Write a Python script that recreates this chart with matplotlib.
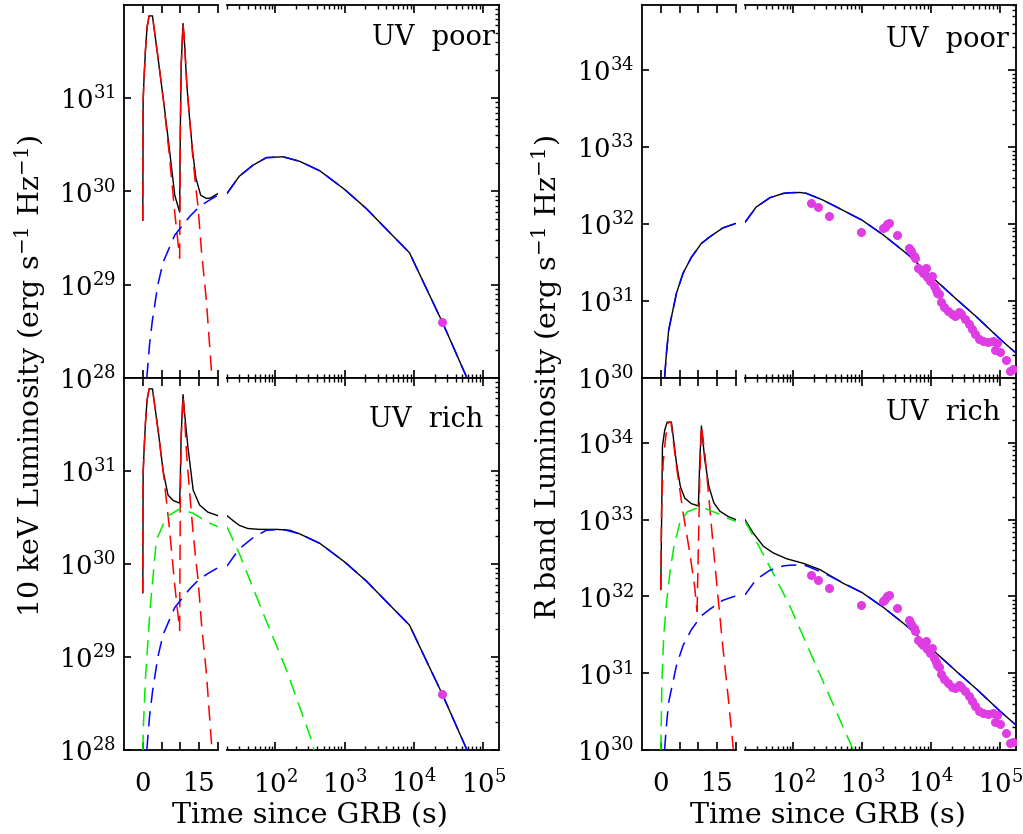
import numpy as np
import matplotlib
matplotlib.use("Agg")
import matplotlib.pyplot as plt
from matplotlib.ticker import LogLocator, NullLocator, NullFormatter

plt.rcParams["font.family"] = ["DejaVu Serif"]
plt.rcParams["mathtext.fontset"] = "dejavuserif"

# ---------------- 10 keV model curves (left column) ----------------
# prompt pulses (red)
xkev_red1_t = [0.0, 0.09, 0.35, 0.71, 1.15, 1.68, 2.57, 4.1, 5.5, 7.0, 8.5, 9.8]
xkev_red1_L = [4.9e29, 9.5e30, 1.7e31, 3.3e31, 5.8e31, 7.6e31, 7.6e31, 2.6e31, 9.3e30, 2.6e30, 5.9e29, 1.95e29]
xkev_red2_t = [9.8, 9.97, 10.2, 10.7, 11.1, 11.7, 12.4, 13.2, 14.1, 14.7, 15.6, 16.9, 18.4]
xkev_red2_L = [1.9e29, 4.2e30, 2.2e31, 6.3e31, 3.9e31, 1.4e31, 6.3e30, 2.6e30, 1.1e30, 6.8e29, 2.3e29, 6.8e28, 1.0e28]

# afterglow (blue)
xkev_blue_lin_t = [1.06, 1.8, 2.57, 4.0, 5.4, 8.5, 12.5, 15.1, 17.8, 20.0]
xkev_blue_lin_L = [1.0e28, 2.3e28, 4.2e28, 1.0e29, 1.74e29, 3.4e29, 5.4e29, 6.9e29, 8.1e29, 9.1e29]
xkev_blue_log_t = [20, 30, 47, 74, 129, 225, 440, 1000, 2080, 4060, 8650, 15400, 25700, 58600]
xkev_blue_log_L = [9.5e29, 1.45e30, 1.9e30, 2.3e30, 2.35e30, 2.1e30, 1.66e30, 1.05e30, 6.5e29,
                   3.9e29, 2.2e29, 8.9e28, 4.0e28, 1.0e28]

# extra UV component (green), UV rich only
xkev_green_lin_t = [0.0, 0.2, 0.7, 1.86, 3.6, 6.3, 9.8, 13.4, 17.3, 20.0]
xkev_green_lin_L = [1.0e28, 2.0e28, 5.8e28, 3.0e29, 1.8e30, 3.2e30, 3.9e30, 3.5e30, 2.8e30, 2.5e30]
xkev_green_log_t = [20, 30, 66, 145, 330, 360]
xkev_green_log_L = [2.5e30, 1.3e30, 3.0e29, 7.2e28, 1.3e28, 1.0e28]

# totals (black)
xkev_tot_poor_t = [0.0, 0.09, 0.35, 0.71, 1.15, 1.68, 2.57, 4.1, 5.5, 7.0, 8.5, 9.8,
                   9.97, 10.2, 10.7, 11.1, 11.7, 12.4, 13.2, 14.1, 15.4, 16.9, 18.0, 20.0]
xkev_tot_poor_L = [4.9e29, 9.5e30, 1.7e31, 3.3e31, 5.8e31, 7.6e31, 7.6e31, 2.6e31, 9.5e30, 3.0e30, 9.1e29, 6.0e29,
                   4.2e30, 2.2e31, 6.3e31, 3.9e31, 1.4e31, 6.3e30, 2.8e30, 1.4e30, 9.1e29, 8.4e29, 8.5e29, 9.5e29]
xkev_tot_rich_lin_t = [0.0, 0.09, 0.35, 0.71, 1.15, 1.68, 2.57, 4.1, 5.4, 6.7, 8.1, 9.8,
                       9.97, 10.2, 10.7, 11.1, 12.0, 13.4, 15.1, 17.3, 20.0]
xkev_tot_rich_lin_L = [4.9e29, 9.5e30, 1.7e31, 3.3e31, 5.8e31, 7.6e31, 7.6e31, 2.7e31, 1.0e31, 5.5e30, 4.8e30, 4.5e30,
                       8.0e30, 2.4e31, 6.6e31, 4.2e31, 1.8e31, 6.2e30, 4.3e30, 3.6e30, 3.3e30]
xkev_tot_rich_log_t = [20, 24, 30, 40, 59, 104, 161, 225, 440, 1000, 2080, 4060, 8650, 15400, 25700, 58600]
xkev_tot_rich_log_L = [3.3e30, 2.95e30, 2.6e30, 2.4e30, 2.35e30, 2.35e30, 2.3e30, 2.1e30, 1.66e30, 1.05e30,
                       6.5e29, 3.9e29, 2.2e29, 8.9e28, 4.0e28, 1.0e28]

xkev_obs_t = [25700]
xkev_obs_L = [4.0e28]

# ---------------- R band model curves (right column) ----------------
rb_blue_lin_t = [1.0, 1.5, 2.1, 2.83, 4.16, 5.93, 8.14, 10.8, 13.0, 16.5, 20.0]
rb_blue_lin_L = [1.0e30, 2.1e30, 4.2e30, 6.2e30, 1.26e31, 2.3e31, 3.7e31, 5.6e31, 6.8e31, 8.9e31, 1.02e32]
rb_blue_log_t = [20, 29, 46, 72, 90, 125, 156, 272, 476, 1000, 2030, 4790, 10000, 23400, 45700, 100000, 171000]
rb_blue_log_L = [1.05e32, 1.66e32, 2.2e32, 2.5e32, 2.55e32, 2.57e32, 2.5e32, 2.04e32, 1.58e32, 1.12e32,
                 7.2e31, 3.9e31, 2.1e31, 1.05e31, 6.2e30, 3.2e30, 2.1e30]

rb_red1_t = [0.0, 0.18, 0.62, 1.33, 2.0, 2.7, 4.16, 5.93, 7.7, 9.0, 9.65]
rb_red1_L = [1.23e32, 1.23e33, 5.5e33, 1.23e34, 1.86e34, 1.86e34, 5.0e33, 1.23e33, 3.7e32, 1.35e32, 6.3e31]
rb_red2_t = [9.65, 10.35, 10.8, 11.7, 13.0, 14.1, 15.2, 16.5, 17.9, 19.3]
rb_red2_L = [6.3e31, 3.3e33, 1.66e34, 7.4e33, 1.48e33, 3.7e32, 1.0e32, 2.2e31, 5.0e30, 1.0e30]

rb_green_lin_t = [0.0, 0.3, 0.8, 1.6, 2.5, 3.5, 5.0, 7.0, 9.5, 12.1, 15.7, 18.3, 20.0]
rb_green_lin_L = [1.0e30, 8.0e30, 3.2e31, 9.0e31, 2.2e32, 4.5e32, 8.9e32, 1.26e33, 1.41e33, 1.38e33,
                  1.17e33, 1.02e33, 9.5e32]
rb_green_log_t = [20, 26, 37, 57, 90, 175, 340, 743]
rb_green_log_L = [9.5e32, 6.3e32, 3.5e32, 1.66e32, 7.4e31, 1.9e31, 4.9e30, 1.0e30]

rb_tot_rich_lin_t = [0.0, 0.44, 1.06, 1.68, 2.83, 4.16, 5.2, 6.4, 8.1, 10.0, 10.35, 10.8, 11.7, 12.8,
                     14.1, 15.7, 17.9, 20.0]
rb_tot_rich_lin_L = [1.23e32, 9.1e33, 1.48e34, 1.86e34, 1.86e34, 5.5e33, 2.7e33, 1.9e33, 1.62e33, 1.51e33,
                     5.6e33, 1.66e34, 6.0e33, 2.7e33, 1.66e33, 1.29e33, 1.1e33, 1.0e33]
rb_tot_rich_log_t = [20, 26, 37, 51, 80, 140, 244, 532, 1000, 2030, 4790, 10000, 23400, 45700, 100000, 171000]
rb_tot_rich_log_L = [1.0e33, 6.8e32, 4.5e32, 3.7e32, 3.1e32, 2.7e32, 2.24e32, 1.48e32, 1.12e32,
                     7.2e31, 3.9e31, 2.1e31, 1.05e31, 6.2e30, 3.2e30, 2.1e30]

# observed R band data points
rb_obs_t = [182, 230, 325, 968, 2014, 2153, 2254, 2410, 3148, 4853, 5188, 5610, 5860, 6490, 7240,
            7660, 8470, 8750, 9770, 10330, 10940, 11800, 12200, 12910, 14130, 15600, 17460, 20140,
            22540, 25180, 27230, 31480, 35160, 39260, 43950, 49090, 56100, 66220, 78340, 85500,
            90600, 98900, 123600, 141300, 154200]
rb_obs_L = [1.88e32, 1.64e32, 1.27e32, 7.8e31, 8.8e31, 9.2e31, 1.0e32, 1.04e32, 7.1e31, 4.9e31, 4.4e31,
            3.9e31, 3.6e31, 2.7e31, 2.5e31, 2.3e31, 2.66e31, 2.04e31, 1.81e31, 2.1e31, 1.56e31, 1.39e31,
            1.28e31, 1.22e31, 9.7e30, 8.4e30, 7.4e30, 6.7e30, 6.4e30, 7.1e30, 6.7e30, 5.8e30, 5.0e30,
            4.3e30, 3.7e30, 3.2e30, 3.0e30, 2.9e30, 3.05e30, 2.3e30, 2.85e30, 2.16e30, 1.69e30,
            1.22e30, 1.29e30]

RED, GREEN, BLUE, MAG = "#ff0000", "#00ee00", "#0000ff", "#e03ce3"
W, H = 1023, 834


def seg(ax, t, L, color, dashed):
    if dashed:
        ax.plot(t, L, color=color, lw=1.1, dashes=(10, 5.5), zorder=3)
    else:
        ax.plot(t, L, color=color, lw=1.0, zorder=2)


def make_axes(fig, x_lin, x_log, y_top, y_bot):
    """pixel coords -> broken axis pair (linear early part, log late part)"""
    b = 1 - y_bot / H
    h = (y_bot - y_top) / H
    ax1 = fig.add_axes([x_lin[0] / W, b, (x_lin[1] - x_lin[0]) / W, h])
    ax2 = fig.add_axes([x_log[0] / W, b, (x_log[1] - x_log[0]) / W, h])
    return ax1, ax2


def style(ax1, ax2, ylim, yticks, bottom_row):
    for ax in (ax1, ax2):
        ax.set_yscale("log")
        ax.set_ylim(ylim)
        for s in ax.spines.values():
            s.set_linewidth(1.3)
    ax1.spines["right"].set_visible(False)
    ax2.spines["left"].set_visible(False)

    ax1.set_xlim(-5, 20)
    ax1.set_xticks([0, 5, 10, 15, 20])
    ax1.set_xticklabels(["0", "", "", "15", ""])
    ax1.set_yticks(yticks)
    ax1.yaxis.set_minor_locator(NullLocator())
    ax1.tick_params(axis="x", direction="in", top=True, bottom=True, length=6, width=1.2,
                    labelsize=18.5, pad=15, labelbottom=bottom_row)
    ax1.tick_params(axis="y", direction="in", left=True, right=False, length=5, width=1.2,
                    labelsize=18.5, pad=6)

    ax2.set_xscale("log")
    ax2.set_xlim(20, 1.7e5)
    ax2.set_xticks([1e2, 1e3, 1e4, 1e5])
    ax2.xaxis.set_minor_locator(LogLocator(base=10, subs=np.arange(2, 10), numticks=20))
    ax2.xaxis.set_minor_formatter(NullFormatter())
    ax2.set_yticks(yticks)
    ax2.yaxis.set_minor_locator(LogLocator(base=10, subs=np.arange(2, 10), numticks=20))
    ax2.tick_params(axis="x", which="major", direction="in", top=True, bottom=True, length=6,
                    width=1.2, labelsize=18.5, pad=14, labelbottom=bottom_row)
    ax2.tick_params(axis="x", which="minor", direction="in", top=True, bottom=True, length=3, width=1)
    ax2.tick_params(axis="y", which="major", direction="in", left=False, right=True, length=6,
                    width=1.2, labelleft=False, labelright=False)
    ax2.tick_params(axis="y", which="minor", direction="in", left=False, right=True, length=3,
                    width=1, labelleft=False, labelright=False)


def draw(ax1, ax2, curves, obs_t, obs_L):
    for t1, L1, t2, L2, color, dashed in curves:
        if t1 is not None:
            seg(ax1, t1, L1, color, dashed)
        if t2 is not None:
            seg(ax2, t2, L2, color, dashed)
    ax2.plot(obs_t, obs_L, "o", color=MAG, ms=6.5, mew=0, zorder=4)


fig = plt.figure(figsize=(W / 100, H / 100), dpi=100)

# left column: 10 keV
ylim_x = (1e28, 9.95e31)
yt_x = [1e28, 1e29, 1e30, 1e31]
a1, a2 = make_axes(fig, (124, 218), (227, 499), 5, 378)
style(a1, a2, ylim_x, yt_x, False)
draw(a1, a2, [
    (xkev_tot_poor_t, xkev_tot_poor_L, xkev_blue_log_t, xkev_blue_log_L, "black", False),
    (xkev_red1_t, xkev_red1_L, None, None, RED, True),
    (xkev_red2_t, xkev_red2_L, None, None, RED, True),
    (xkev_blue_lin_t, xkev_blue_lin_L, xkev_blue_log_t, xkev_blue_log_L, BLUE, True),
], xkev_obs_t, xkev_obs_L)
a2.text(0.985, 0.893, "UV  poor", transform=a2.transAxes, ha="right", va="baseline", fontsize=19.5)

b1, b2 = make_axes(fig, (124, 218), (227, 499), 378, 750)
style(b1, b2, ylim_x, yt_x, True)
draw(b1, b2, [
    (xkev_tot_rich_lin_t, xkev_tot_rich_lin_L, xkev_tot_rich_log_t, xkev_tot_rich_log_L, "black", False),
    (xkev_red1_t, xkev_red1_L, None, None, RED, True),
    (xkev_red2_t, xkev_red2_L, None, None, RED, True),
    (xkev_green_lin_t, xkev_green_lin_L, xkev_green_log_t, xkev_green_log_L, GREEN, True),
    (xkev_blue_lin_t, xkev_blue_lin_L, xkev_blue_log_t, xkev_blue_log_L, BLUE, True),
], xkev_obs_t, xkev_obs_L)
b2.text(0.941, 0.868, "UV  rich", transform=b2.transAxes, ha="right", va="baseline", fontsize=19.5)

# right column: R band
ylim_r = (1e30, 7e34)
yt_r = [1e30, 1e31, 1e32, 1e33, 1e34]
c1, c2 = make_axes(fig, (642, 736), (745, 1016), 5, 378)
style(c1, c2, ylim_r, yt_r, False)
draw(c1, c2, [
    (rb_blue_lin_t, rb_blue_lin_L, rb_blue_log_t, rb_blue_log_L, "black", False),
    (rb_blue_lin_t, rb_blue_lin_L, rb_blue_log_t, rb_blue_log_L, BLUE, True),
], rb_obs_t, rb_obs_L)
c2.text(0.974, 0.888, "UV  poor", transform=c2.transAxes, ha="right", va="baseline", fontsize=19.5)

d1, d2 = make_axes(fig, (642, 736), (745, 1016), 378, 750)
style(d1, d2, ylim_r, yt_r, True)
draw(d1, d2, [
    (rb_tot_rich_lin_t, rb_tot_rich_lin_L, rb_tot_rich_log_t, rb_tot_rich_log_L, "black", False),
    (rb_red1_t, rb_red1_L, None, None, RED, True),
    (rb_red2_t, rb_red2_L, None, None, RED, True),
    (rb_green_lin_t, rb_green_lin_L, rb_green_log_t, rb_green_log_L, GREEN, True),
    (rb_blue_lin_t, rb_blue_lin_L, rb_blue_log_t, rb_blue_log_L, BLUE, True),
], rb_obs_t, rb_obs_L)
d2.text(0.941, 0.887, "UV  rich", transform=d2.transAxes, ha="right", va="baseline", fontsize=19.5)

# axis titles
fig.text(30 / W, 1 - 376 / H, "10 keV Luminosity (erg s$^{-1}$ Hz$^{-1}$)", rotation=90,
         ha="center", va="center", fontsize=20.5)
fig.text(547 / W, 1 - 378 / H, "R band Luminosity (erg s$^{-1}$ Hz$^{-1}$)", rotation=90,
         ha="center", va="center", fontsize=20.5)
fig.text(310 / W, 1 - 815 / H, "Time since GRB (s)", ha="center", va="center", fontsize=20.5)
fig.text(828 / W, 1 - 815 / H, "Time since GRB (s)", ha="center", va="center", fontsize=20.5)

fig.savefig("out.png", dpi=100)
